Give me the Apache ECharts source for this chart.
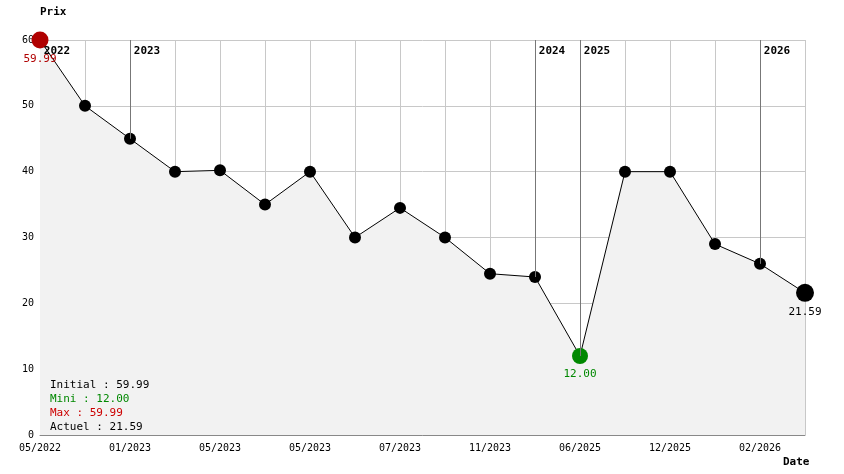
<!DOCTYPE html>
<html>
<head>
<meta charset="UTF-8">
<script src="https://cdnjs.cloudflare.com/ajax/libs/echarts/6.0.0/echarts.min.js"></script>
<style>body{margin:0}#c{width:844px;height:474px}</style>
</head>
<body>
<div id="c"></div>
<script>
const dates = ["05/2022","","01/2023","","05/2023","","05/2023","","07/2023","","11/2023","","06/2025","","12/2025","","02/2026",""];
const prices = [59.99, 50, 45, 40, 40.2, 35, 40, 30, 34.5, 30, 24.5, 24, 12, 40, 40, 29, 26, 21.59];
const years = [["2022", 0], ["2023", 2], ["2024", 11], ["2025", 12], ["2026", 16]];
const stats = [["Initial : 59.99", "#000"], ["Mini : 12.00", "#008800"], ["Max : 59.99", "#cc0000"], ["Actuel : 21.59", "#000"]];

const font = "DejaVu Sans Mono";
const chart = echarts.init(document.getElementById("c"));

const points = prices.map((v, i) => {
  if (i === 0) return { value: v, symbolSize: 17, itemStyle: { color: "#b00000" },
    label: { show: true, position: "bottom", color: "#b00000", formatter: "59.99" } };
  if (v === 12) return { value: v, symbolSize: 16, itemStyle: { color: "#008800" },
    label: { show: true, position: "bottom", color: "#008800", formatter: "12.00" } };
  if (i === prices.length - 1) return { value: v, symbolSize: 18,
    label: { show: true, position: "bottom", color: "#000", formatter: "21.59" } };
  return v;
});

chart.setOption({
  animation: false,
  textStyle: { fontFamily: font },
  grid: { left: 40, right: 39, top: 40, bottom: 39 },
  xAxis: {
    type: "category", data: dates, boundaryGap: false,
    axisLine: { lineStyle: { color: "#888" } },
    axisTick: { show: false },
    axisLabel: { interval: 0, fontSize: 10, color: "#000", fontFamily: font },
    splitLine: { show: true, interval: 0, lineStyle: { color: "#c8c8c8" } }
  },
  yAxis: {
    type: "value", min: 0, max: 60, interval: 10,
    name: "Prix", nameGap: 22,
    nameTextStyle: { fontWeight: "bold", fontSize: 11, color: "#000", align: "left" },
    axisLine: { show: true, lineStyle: { color: "#888" } },
    axisTick: { show: false },
    axisLabel: { fontSize: 10, color: "#000", fontFamily: font, margin: 6 },
    splitLine: { lineStyle: { color: "#c8c8c8" } }
  },
  series: [{
    type: "line", data: points, symbol: "circle", symbolSize: 12,
    itemStyle: { color: "#000" },
    lineStyle: { color: "#000", width: 1 },
    areaStyle: { color: "#f2f2f2", opacity: 1 },
    label: { fontFamily: font, fontSize: 11 },
    markLine: {
      symbol: "none", silent: true,
      label: { show: false },
      lineStyle: { color: "#777", width: 1, type: "solid" },
      data: years.map(([y, i]) => [{ coord: [i, 60] }, { coord: [i, prices[i]] }])
    },
    markPoint: {
      symbol: "circle", symbolSize: 1, silent: true,
      itemStyle: { color: "rgba(0,0,0,0)" },
      label: { show: true, position: "inside", offset: [17, 11], fontWeight: "bold",
        fontSize: 11, color: "#000", fontFamily: font },
      data: years.map(([y, i]) => ({ coord: [i, 60], value: y }))
    }
  }],
  graphic: stats.map(([t, c], k) => ({
    type: "text", left: 50, top: 380 + k * 14, z: 100,
    style: { text: t, fill: c, font: "11px " + font }
  })).concat([{
    type: "text", left: 783, top: 457, z: 100,
    style: { text: "Date", fill: "#000", font: "bold 11px " + font }
  }])
});
</script>
</body>
</html>
